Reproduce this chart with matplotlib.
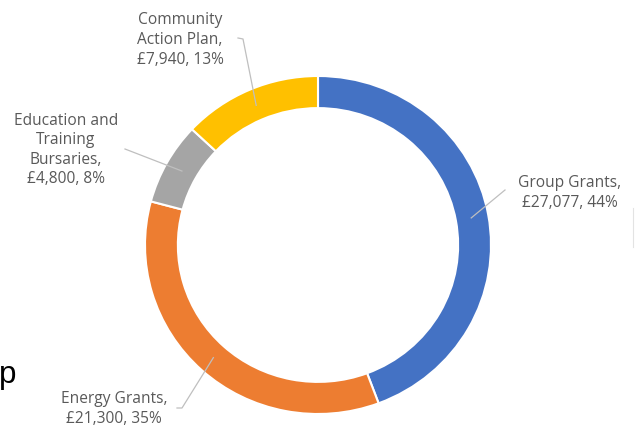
import numpy as np
import matplotlib
matplotlib.use("Agg")
import matplotlib.pyplot as plt
from matplotlib.lines import Line2D

# funding breakdown
categories = ["Group Grants", "Energy Grants", "Education and\nTraining\nBursaries", "Community\nAction Plan"]
amounts = [27077, 21300, 4800, 7940]
percents = [44, 35, 8, 13]
colors = ["#4472C4", "#ED7D31", "#A5A5A5", "#FFC000"]

W, H = 643, 428
fig = plt.figure(figsize=(W / 100, H / 100), dpi=100)
fig.patch.set_facecolor("white")

# donut, centre ~ (318, 245) in image pixels
ax = fig.add_axes([145 / W, 14 / H, 346 / W, 338 / H])
wedges, _ = ax.pie(amounts, colors=colors, startangle=90, counterclock=False,
                   radius=1.0, wedgeprops=dict(width=0.19, edgecolor="white", linewidth=1.5))
ax.set_aspect("auto")
ax.set_xlim(-1, 1)
ax.set_ylim(-1, 1)
ax.axis("off")

txt_color = "#595959"
line_color = "#BFBFBF"
font = ["Open Sans", "DejaVu Sans"]

# label centre (image px) and leader end points (image px)
label_pos = [(570, 193), (114, 409), (66, 150), (180, 40)]
leader_pts = [[(505, 190)], [(182, 408), (177, 408)], [(125, 149)], [(243, 39), (238, 38)]]

fig.canvas.draw()
for i, w in enumerate(wedges):
    mid = np.deg2rad((w.theta1 + w.theta2) / 2)
    start = ax.transData.transform((0.9 * np.cos(mid), 0.9 * np.sin(mid)))
    xs = [start[0]] + [p[0] for p in leader_pts[i]]
    ys = [start[1]] + [H - p[1] for p in leader_pts[i]]
    fig.add_artist(Line2D(xs, ys, transform=None, color=line_color, lw=0.9))
    label = "%s,\n£%s, %d%%" % (categories[i], format(amounts[i], ","), percents[i])
    lx, ly = label_pos[i]
    fig.text(lx / W, 1 - ly / H, label, ha="center", va="center", color=txt_color,
             fontsize=11.2, family=font, linespacing=1.3)

# stray fragments at the edges of the original crop
fig.text(-1 / W, 1 - 383 / H, "p", fontsize=22.5, family="Liberation Sans",
         color="black", ha="left", va="baseline")
fig.add_artist(Line2D([633 / W, 633 / W], [1 - 208 / H, 1 - 247 / H],
                      transform=fig.transFigure, color="#E3E3E3", lw=0.8))

fig.savefig("out.png", dpi=100, facecolor="white")
